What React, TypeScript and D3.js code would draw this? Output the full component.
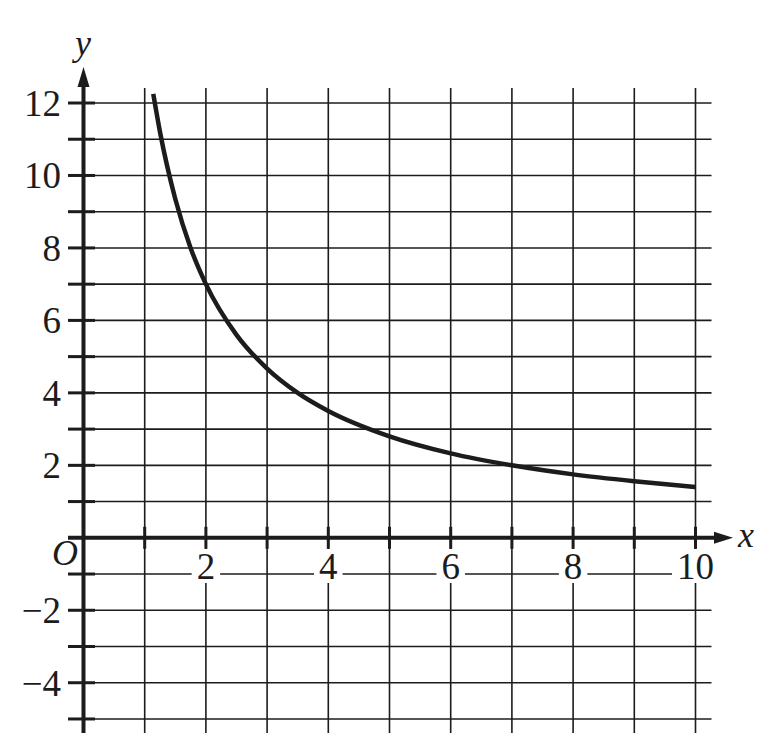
import React from "react";
import * as d3 from "d3";

// Curve points
const curveX = [1.14, 1.25, 1.5, 1.75, 2, 2.5, 3, 3.5, 4, 5, 6, 7, 8, 9, 10];
const curveY = [12.25, 11.2, 9.35, 8.0, 7.0, 5.6, 4.67, 4.0, 3.5, 2.8, 2.33, 2.0, 1.75, 1.56, 1.4];

const xTickLabels = [2, 4, 6, 8, 10];
const yTickLabels = [12, 10, 8, 6, 4, 2, -2, -4];
const xGrid = [1, 2, 3, 4, 5, 6, 7, 8, 9, 10];
const yGrid = [-5, -4, -3, -2, -1, 1, 2, 3, 4, 5, 6, 7, 8, 9, 10, 11, 12];

export default function App() {
  const W = 778;
  const H = 751;
  const x = d3.scaleLinear().domain([0, 10]).range([83.5, 695.5]);
  const y = d3.scaleLinear().domain([0, 12]).range([537.8, 103]);

  const gridLeft = 68;
  const gridRight = 711.5;
  const gridTop = 88;
  const gridBottom = 733;
  const ink = "#1c1c1c";
  const font = "'Liberation Serif', serif";

  const pts: [number, number][] = curveX.map((v, i) => [v, curveY[i]]);
  const line = d3
    .line<[number, number]>()
    .x((d) => x(d[0]))
    .y((d) => y(d[1]))
    .curve(d3.curveMonotoneX);

  const x0 = x(0);
  const y0 = y(0);

  return (
    <svg
      width={W}
      height={H}
      style={{ position: "absolute", left: 0, top: 0, background: "#fff" }}
    >
      <rect x={0} y={0} width={W} height={H} fill="#fff" />
      {/* grid */}
      {xGrid.map((v) => (
        <line key={"gx" + v} x1={x(v)} x2={x(v)} y1={gridTop} y2={gridBottom} stroke={ink} strokeWidth={1.6} />
      ))}
      {yGrid.map((v) => (
        <line key={"gy" + v} x1={gridLeft} x2={gridRight} y1={y(v)} y2={y(v)} stroke={ink} strokeWidth={1.6} />
      ))}
      {/* ticks on axes */}
      {yGrid.map((v) => (
        <line key={"ty" + v} x1={gridLeft} x2={x0 + 11.5} y1={y(v)} y2={y(v)} stroke={ink} strokeWidth={3} />
      ))}
      {xGrid.map((v) => (
        <line key={"tx" + v} x1={x(v)} x2={x(v)} y1={y0 - 11} y2={y0 + 11} stroke={ink} strokeWidth={3} />
      ))}
      {/* axes */}
      <line x1={gridLeft} x2={722} y1={y0} y2={y0} stroke={ink} strokeWidth={4} />
      <line x1={x0} x2={x0} y1={gridBottom} y2={82} stroke={ink} strokeWidth={4} />
      <polygon points={`${733},${y0} ${714},${y0 - 6} ${714},${y0 + 6}`} fill={ink} />
      <polygon points={`${x0},${67} ${x0 - 6},${87} ${x0 + 6},${87}`} fill={ink} />
      {/* x tick labels with white background */}
      {xTickLabels.map((v) => {
        const w = String(v).length * 18.5 + 10;
        return (
          <g key={"lx" + v}>
            <rect x={x(v) - w / 2} y={549} width={w} height={34} fill="#fff" />
            <text x={x(v)} y={579} textAnchor="middle" fontFamily={font} fontSize={37} fill={ink}>
              {v}
            </text>
          </g>
        );
      })}
      {/* y tick labels */}
      {yTickLabels.map((v) => (
        <text key={"ly" + v} x={61} y={y(v) + 13} textAnchor="end" fontFamily={font} fontSize={37} fill={ink}>
          {v < 0 ? "\u2212" + Math.abs(v) : v}
        </text>
      ))}
      {/* axis names */}
      <text x={65} y={565} textAnchor="middle" fontFamily={font} fontStyle="italic" fontSize={36} fill={ink}>
        O
      </text>
      <text x={83} y={55} textAnchor="middle" fontFamily={font} fontStyle="italic" fontSize={36} fill={ink}>
        y
      </text>
      <text x={746} y={547} textAnchor="middle" fontFamily={font} fontStyle="italic" fontSize={36} fill={ink}>
        x
      </text>
      {/* curve */}
      <path d={line(pts) || ""} fill="none" stroke={ink} strokeWidth={4.5} strokeLinecap="butt" />
    </svg>
  );
}
